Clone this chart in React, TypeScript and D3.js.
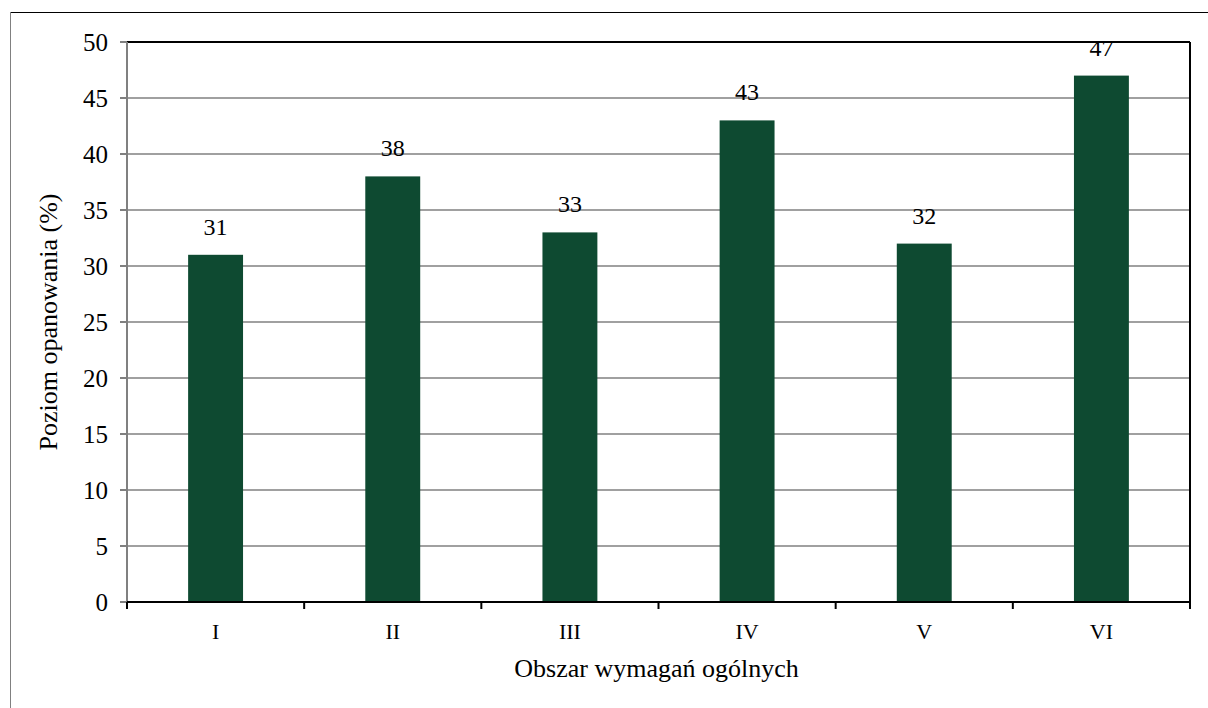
import React from 'react'
import * as d3 from 'd3'

const categories = ['I', 'II', 'III', 'IV', 'V', 'VI']
const values = [31, 38, 33, 43, 32, 47]
const yTicks = [0, 5, 10, 15, 20, 25, 30, 35, 40, 45, 50]

const W = 1208
const H = 708
const margin = { left: 127, right: 18, top: 42, bottom: 106 }
const font = '"Liberation Serif", "Times New Roman", Times, serif'
const barColor = '#0e4a31'

export default function App() {
  const innerW = W - margin.left - margin.right
  const innerH = H - margin.top - margin.bottom

  const xb = d3.scaleBand<string>().domain(categories).range([0, innerW])
  const barW = xb.bandwidth() * 0.31
  const y = d3.scaleLinear().domain([0, 50]).range([innerH, 0])

  return (
    <svg width={W} height={H} style={{ position: 'absolute', left: 0, top: 0, background: '#fff' }} fontFamily={font}>
      {/* outer frame */}
      <line x1={10.5} y1={12.5} x2={W} y2={12.5} stroke="#000" strokeWidth={1} />
      <line x1={10.5} y1={12.5} x2={10.5} y2={H} stroke="#808080" strokeWidth={1} />
      <g transform={`translate(${margin.left},${margin.top})`}>
        {/* grid */}
        {yTicks.map(t => (
          <line key={t} x1={0} x2={innerW} y1={y(t)} y2={y(t)} stroke="#808080" strokeWidth={1.5} />
        ))}
        <line x1={0} x2={innerW} y1={0} y2={0} stroke="#000" strokeWidth={2} />
        <line x1={innerW} x2={innerW} y1={0} y2={innerH} stroke="#000" strokeWidth={2} />
        {/* bars */}
        {categories.map((c, i) => {
          const cx = xb(c)! + xb.bandwidth() / 2
          return (
            <g key={c}>
              <rect x={cx - barW / 2} y={y(values[i])} width={barW} height={innerH - y(values[i])} fill={barColor} />
              <text x={cx} y={y(values[i]) - 20} textAnchor="middle" fontSize={24} fill="#000">
                {values[i]}
              </text>
            </g>
          )
        })}
        {/* y axis */}
        <line x1={0} x2={0} y1={0} y2={innerH} stroke="#808080" strokeWidth={2} />
        {yTicks.map(t => (
          <g key={t} transform={`translate(0,${y(t)})`}>
            <line x1={-7} x2={0} stroke="#808080" strokeWidth={2} />
            <text x={-19} dy="0.34em" textAnchor="end" fontSize={25} fill="#000">{t}</text>
          </g>
        ))}
        {/* x axis */}
        <line x1={0} x2={innerW} y1={innerH} y2={innerH} stroke="#000" strokeWidth={2} />
        {d3.range(categories.length + 1).map(i => {
          const px = i < categories.length ? xb(categories[i])! : innerW
          return <line key={i} x1={px} x2={px} y1={innerH} y2={innerH + 7} stroke="#000" strokeWidth={2} />
        })}
        {categories.map(c => (
          <text key={c} x={xb(c)! + xb.bandwidth() / 2} y={innerH + 37} textAnchor="middle" fontSize={22} fill="#000">{c}</text>
        ))}
        <text x={innerW / 2 - 2} y={innerH + 75} textAnchor="middle" fontSize={26} fill="#000">Obszar wymagań ogólnych</text>
        <text transform={`translate(${57 - margin.left},${innerH / 2}) rotate(-90)`} textAnchor="middle" fontSize={26} fill="#000">Poziom opanowania (%)</text>
      </g>
    </svg>
  )
}
